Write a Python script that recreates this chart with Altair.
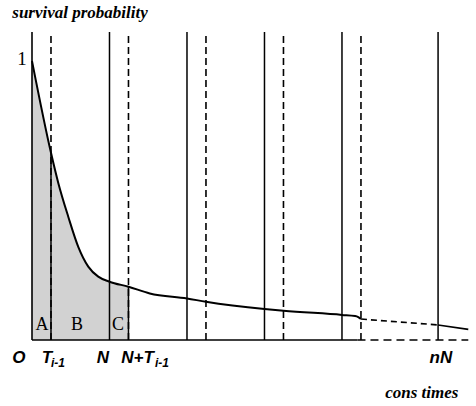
import altair as alt
import pandas as pd

# survival curve (time in units of N, probability)
curve_t = [0.0, 0.245, 0.339, 0.468, 0.597, 0.726, 0.855, 1.0, 1.245, 1.52, 2.0, 2.245,
           3.0, 3.245, 4.0, 4.17, 4.21, 4.245, 5.24, 5.63]
curve_p = [1.0, 0.671, 0.563, 0.442, 0.334, 0.263, 0.227, 0.209, 0.191, 0.167, 0.149, 0.137,
           0.111, 0.105, 0.090, 0.086, 0.082, 0.075, 0.054, 0.038]

T = 0.245
solid_x = [1.0, 2.0, 3.0, 4.0, 5.24]
dashed_x = [0.245, 1.245, 2.245, 3.245, 4.245]
region_labels = ["A", "B", "C"]
region_x = [0.129, 0.58, 1.11]

YTOP = 1.104
XMAX = 5.652

xs = alt.Scale(domain=[0, XMAX], nice=False, zero=False)
ys = alt.Scale(domain=[0, YTOP], nice=False, zero=False)

curve = pd.DataFrame({"t": curve_t, "p": curve_p})
seg1 = curve[curve.t <= 4.245]
seg2 = curve[(curve.t >= 4.245) & (curve.t <= 5.24)]
seg3 = curve[curve.t >= 5.24]
shade = curve[curve.t <= 1.245]

X = lambda f="t": alt.X(f"{f}:Q", scale=xs, axis=None)
Y = lambda f="p": alt.Y(f"{f}:Q", scale=ys, axis=None)

area = alt.Chart(shade).mark_area(color="#d2d2d2", interpolate="monotone").encode(
    x=X(), y=Y(), y2=alt.datum(0))

line1 = alt.Chart(seg1).mark_line(color="black", strokeWidth=2, interpolate="monotone").encode(x=X(), y=Y())
line2 = alt.Chart(seg2).mark_line(color="black", strokeWidth=1.6, strokeDash=[6, 4]).encode(x=X(), y=Y())
line3 = alt.Chart(seg3).mark_line(color="black", strokeWidth=1.6).encode(x=X(), y=Y())

vsolid = alt.Chart(pd.DataFrame({"x": solid_x, "y0": 0.0, "y1": YTOP})).mark_rule(
    color="black", strokeWidth=1.5).encode(x=X("x"), y=Y("y0"), y2="y1:Q")
vdash = alt.Chart(pd.DataFrame({"x": dashed_x, "y0": 0.0, "y1": YTOP})).mark_rule(
    color="black", strokeWidth=1.6, strokeDash=[7, 4]).encode(x=X("x"), y=Y("y0"), y2="y1:Q")
# inside the shaded region the T lines are solid
vin = alt.Chart(pd.DataFrame({"x": [0.245, 1.245], "y0": 0.0, "y1": [0.671, 0.191]})).mark_rule(
    color="black", strokeWidth=1.5).encode(x=X("x"), y=Y("y0"), y2="y1:Q")

yaxis = alt.Chart(pd.DataFrame({"x": [0.0], "y0": [0.0], "y1": [YTOP]})).mark_rule(
    color="black", strokeWidth=1.6).encode(x=X("x"), y=Y("y0"), y2="y1:Q")
xaxis1 = alt.Chart(pd.DataFrame({"x0": [0.0], "x1": [4.2], "y": [0.0]})).mark_rule(
    color="black", strokeWidth=1.6).encode(x=X("x0"), x2="x1:Q", y=Y("y"))
xaxis2 = alt.Chart(pd.DataFrame({"x0": [4.2], "x1": [5.63], "y": [0.0]})).mark_rule(
    color="black", strokeWidth=1.4, strokeDash=[8, 5]).encode(x=X("x0"), x2="x1:Q", y=Y("y"))

def txt(df, font, size, style="normal", weight="normal", align="center"):
    return alt.Chart(df).mark_text(font=font, fontSize=size, fontStyle=style, fontWeight=weight,
                                   align=align, baseline="alphabetic", color="black").encode(
        x=X("x"), y=Y("y"), text="s:N")

abc = txt(pd.DataFrame({"x": region_x, "y": 0.036, "s": region_labels}), "Liberation Serif", 18)
one = txt(pd.DataFrame({"x": [-0.13], "y": [0.986], "s": ["1"]}), "Liberation Serif", 19)
titles = txt(pd.DataFrame({"x": [0.62, 5.03], "y": [1.154, -0.208],
                           "s": ["survival probability", "cons times"]}),
             "Liberation Serif", 17, "italic", "bold")
ticks = txt(pd.DataFrame({"x": [-0.168, 0.194, 0.916, 1.361, 5.277], "y": -0.082,
                          "s": ["O", "T", "N", "N+T", "nN"]}),
            "Liberation Sans", 17, "italic", "bold")
subs = txt(pd.DataFrame({"x": [0.245, 1.587], "y": -0.097, "s": ["i-1", "i-1"]}),
           "Liberation Sans", 12, "italic", "bold", align="left")

chart = alt.layer(area, vdash, vsolid, vin, line1, line2, line3, yaxis, xaxis1, xaxis2,
                  abc, one, titles, ticks, subs).properties(
    width=438, height=308, autosize="none",
    padding={"left": 32, "top": 32, "right": 6, "bottom": 66},
    background="white",
).configure_view(stroke=None)

chart.save("out.html", embed_options={"renderer": "svg", "actions": False})
